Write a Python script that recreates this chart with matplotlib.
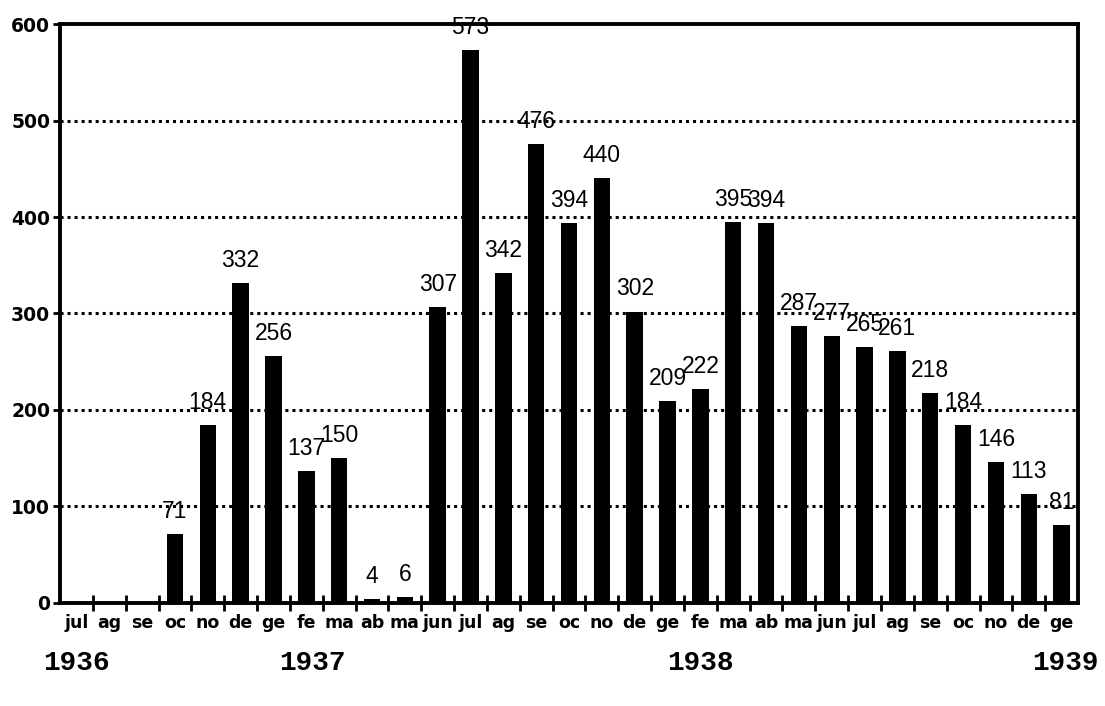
import numpy as np
import matplotlib
matplotlib.use('Agg')
import matplotlib.pyplot as plt


# months from july 1936 to january 1939 (italian abbreviations)
months = ['jul', 'ag', 'se', 'oc', 'no', 'de',
          'ge', 'fe', 'ma', 'ab', 'ma', 'jun', 'jul', 'ag', 'se', 'oc', 'no', 'de',
          'ge', 'fe', 'ma', 'ab', 'ma', 'jun', 'jul', 'ag', 'se', 'oc', 'no', 'de',
          'ge']
counts = [0, 0, 0, 71, 184, 332,
          256, 137, 150, 4, 6, 307, 573, 342, 476, 394, 440, 302,
          209, 222, 395, 394, 287, 277, 265, 261, 218, 184, 146, 113,
          81]
years = ['1936', '1937', '1938', '1939']
year_pos = [0, 7.2, 19.0, 30.1]
yticks = [0, 100, 200, 300, 400, 500, 600]

plt.rcParams['font.family'] = ['Liberation Sans', 'DejaVu Sans']

fig = plt.figure(figsize=(11.05, 7.06), dpi=100)
ax = fig.add_axes([0.0543, 0.1459, 0.9213, 0.8201])

ind = np.arange(len(months))
bars = ax.bar(ind, counts, 0.5, color='black', zorder=3)

# value labels above every non-empty bar
for x, v in zip(ind, counts):
    if v > 0:
        ax.annotate(str(v), (x, v), xytext=(0, 8), textcoords='offset points',
                    ha='center', va='bottom', fontsize=16.5, color='black',
                    zorder=5, annotation_clip=False)

ax.set_xlim(-0.5, len(months) - 0.5)
ax.set_ylim(0, 600)

# dotted grid only between 100 and 500
for y in yticks[1:-1]:
    ax.axhline(y, color='black', linestyle=(0, (1, 1.3)), linewidth=2.2, zorder=1)

ax.set_yticks(yticks)
ax.set_yticklabels([str(y) for y in yticks], fontsize=13.5, fontweight='bold',
                   family='DejaVu Sans')
ax.tick_params(axis='y', length=5, width=2, pad=2)

# month labels under the bars, tick marks between them
ax.set_xticks(ind)
ax.set_xticklabels(months, fontsize=12.5, fontweight='bold', family='DejaVu Sans')
ax.tick_params(axis='x', which='major', length=0, pad=8)
ax.set_xticks(ind[:-1] + 0.5, minor=True)
ax.tick_params(axis='x', which='minor', direction='inout', length=12, width=2)

for side in ['left', 'bottom', 'top', 'right']:
    ax.spines[side].set_linewidth(2.8)

# years along the bottom
for label, xp in zip(years, year_pos):
    ax.text(xp, -0.082, label, transform=ax.get_xaxis_transform(),
            ha='center', va='top', fontsize=20, fontweight='bold',
            family='Liberation Mono')

fig.savefig('out.png', dpi=100)
